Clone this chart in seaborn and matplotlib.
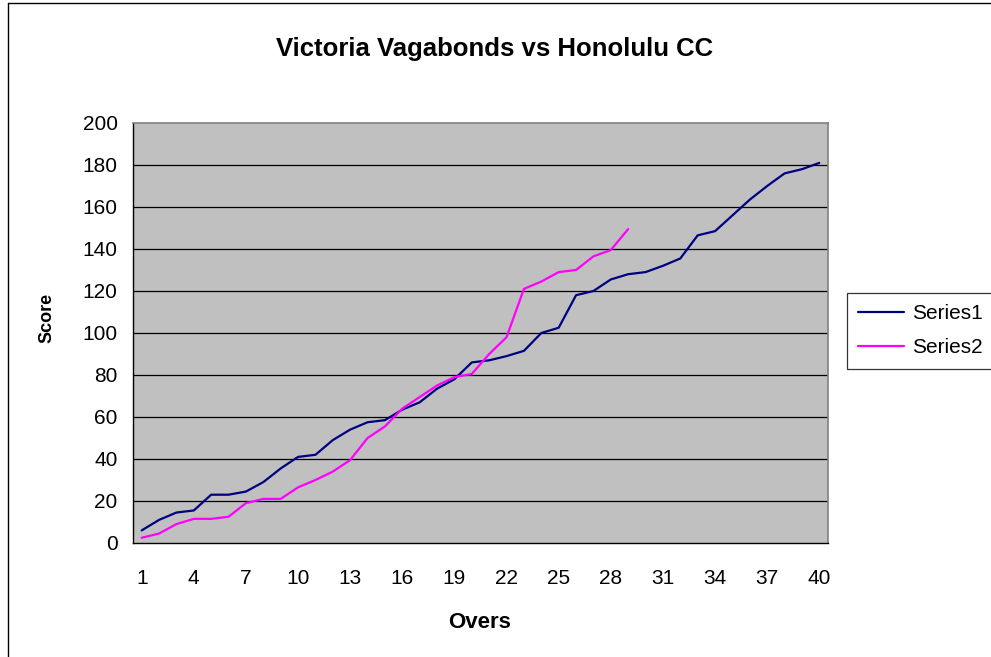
import matplotlib
matplotlib.use("Agg")
import matplotlib.pyplot as plt
from matplotlib.lines import Line2D
import seaborn as sns
import pandas as pd
import numpy as np

overs = list(range(1, 41))
series1 = [6, 11, 14.5, 15.5, 23, 23, 24.5, 29, 35.5, 41, 42, 49, 54, 57.5, 58.5,
           63.5, 67, 73.5, 78, 86, 87, 89, 91.5, 100, 102.5, 118, 120, 125.5, 128,
           129, 132, 135.5, 146.5, 148.5, 156, 163.5, 170, 176, 178, 181]
series2 = [2.5, 4.5, 9, 11.5, 11.5, 12.5, 19, 21, 21, 26.5, 30, 34, 39.5, 50, 55.5,
           64, 69.5, 75, 79, 80.5, 90, 98, 121, 124.5, 129, 130, 136.5, 139.5, 149.5]
series_names = ["Series1", "Series2"]
colors = ["#000080", "#FF00FF"]
title = "Victoria Vagabonds vs Honolulu CC"
xlabel = "Overs"
ylabel = "Score"
xtick_labels = list(range(1, 41, 3))
yticks = list(range(0, 201, 20))

df = pd.concat([
    pd.DataFrame({"over": overs[:len(series1)], "score": series1, "series": series_names[0]}),
    pd.DataFrame({"over": overs[:len(series2)], "score": series2, "series": series_names[1]}),
])

sns.set_theme(style="white")
plt.rcParams["font.family"] = ["Liberation Sans", "DejaVu Sans"]
plt.rcParams["text.color"] = "black"
plt.rcParams["xtick.color"] = "black"
plt.rcParams["ytick.color"] = "black"
plt.rcParams["axes.labelcolor"] = "black"

fig = plt.figure(figsize=(9.91, 6.57), dpi=100)
ax = fig.add_axes([133/991, 1-543/657, (828-133)/991, (543-123)/657])
ax.set_facecolor("#C0C0C0")

sns.lineplot(data=df, x="over", y="score", hue="series", palette=colors,
             linewidth=1.6, ax=ax, legend=False, sort=False)

ax.set_xlim(0.5, 40.5)
ax.set_ylim(0, 200)
ax.set_yticks(yticks)
ax.set_yticklabels([str(v) for v in yticks], fontsize=15)
ax.set_xticks(xtick_labels)
ax.set_xticklabels([str(v) for v in xtick_labels], fontsize=15)
ax.set_xticks(np.arange(0.5, 41, 1), minor=True)
ax.tick_params(axis="x", which="major", length=0, pad=19)
ax.tick_params(axis="x", which="minor", length=5, width=0.8, color="black", direction="out")
ax.tick_params(axis="y", which="major", length=5, width=0.8, color="black", direction="out", pad=6)
for y in yticks[1:-1]:
    ax.axhline(y, color="black", linewidth=0.9, zorder=1)

for side in ["top", "right"]:
    ax.spines[side].set_color("#808080")
    ax.spines[side].set_linewidth(1.2)
for side in ["left", "bottom"]:
    ax.spines[side].set_color("black")
    ax.spines[side].set_linewidth(1.0)

ax.set_xlabel("")
ax.set_ylabel("")
fig.text(480/991, 1-622/657, xlabel, ha="center", va="center", fontsize=16, fontweight="bold")
fig.text(47/991, 1-318/657, ylabel, ha="center", va="center", fontsize=13,
         fontweight="bold", rotation=90)
fig.text(495/991, 1-49/657, title, ha="center", va="center", fontsize=18.5, fontweight="bold")

handles = [Line2D([0], [0], color=c, lw=1.6) for c in colors]
leg = fig.legend(handles, series_names, loc="upper left", bbox_to_anchor=(847/991, 1-293/657),
                 frameon=True, fancybox=False, fontsize=15, handlelength=2.2,
                 borderpad=0.55, labelspacing=0.7, handletextpad=0.35, borderaxespad=0)
leg.get_frame().set_edgecolor("black")
leg.get_frame().set_linewidth(0.9)

fig.lines.append(Line2D([8/991, 8/991], [0, 1-3/657], transform=fig.transFigure,
                        color="black", linewidth=1.0))
fig.lines.append(Line2D([8/991, 1], [1-3/657, 1-3/657], transform=fig.transFigure,
                        color="black", linewidth=1.0))

fig.savefig("out.png", dpi=100)
